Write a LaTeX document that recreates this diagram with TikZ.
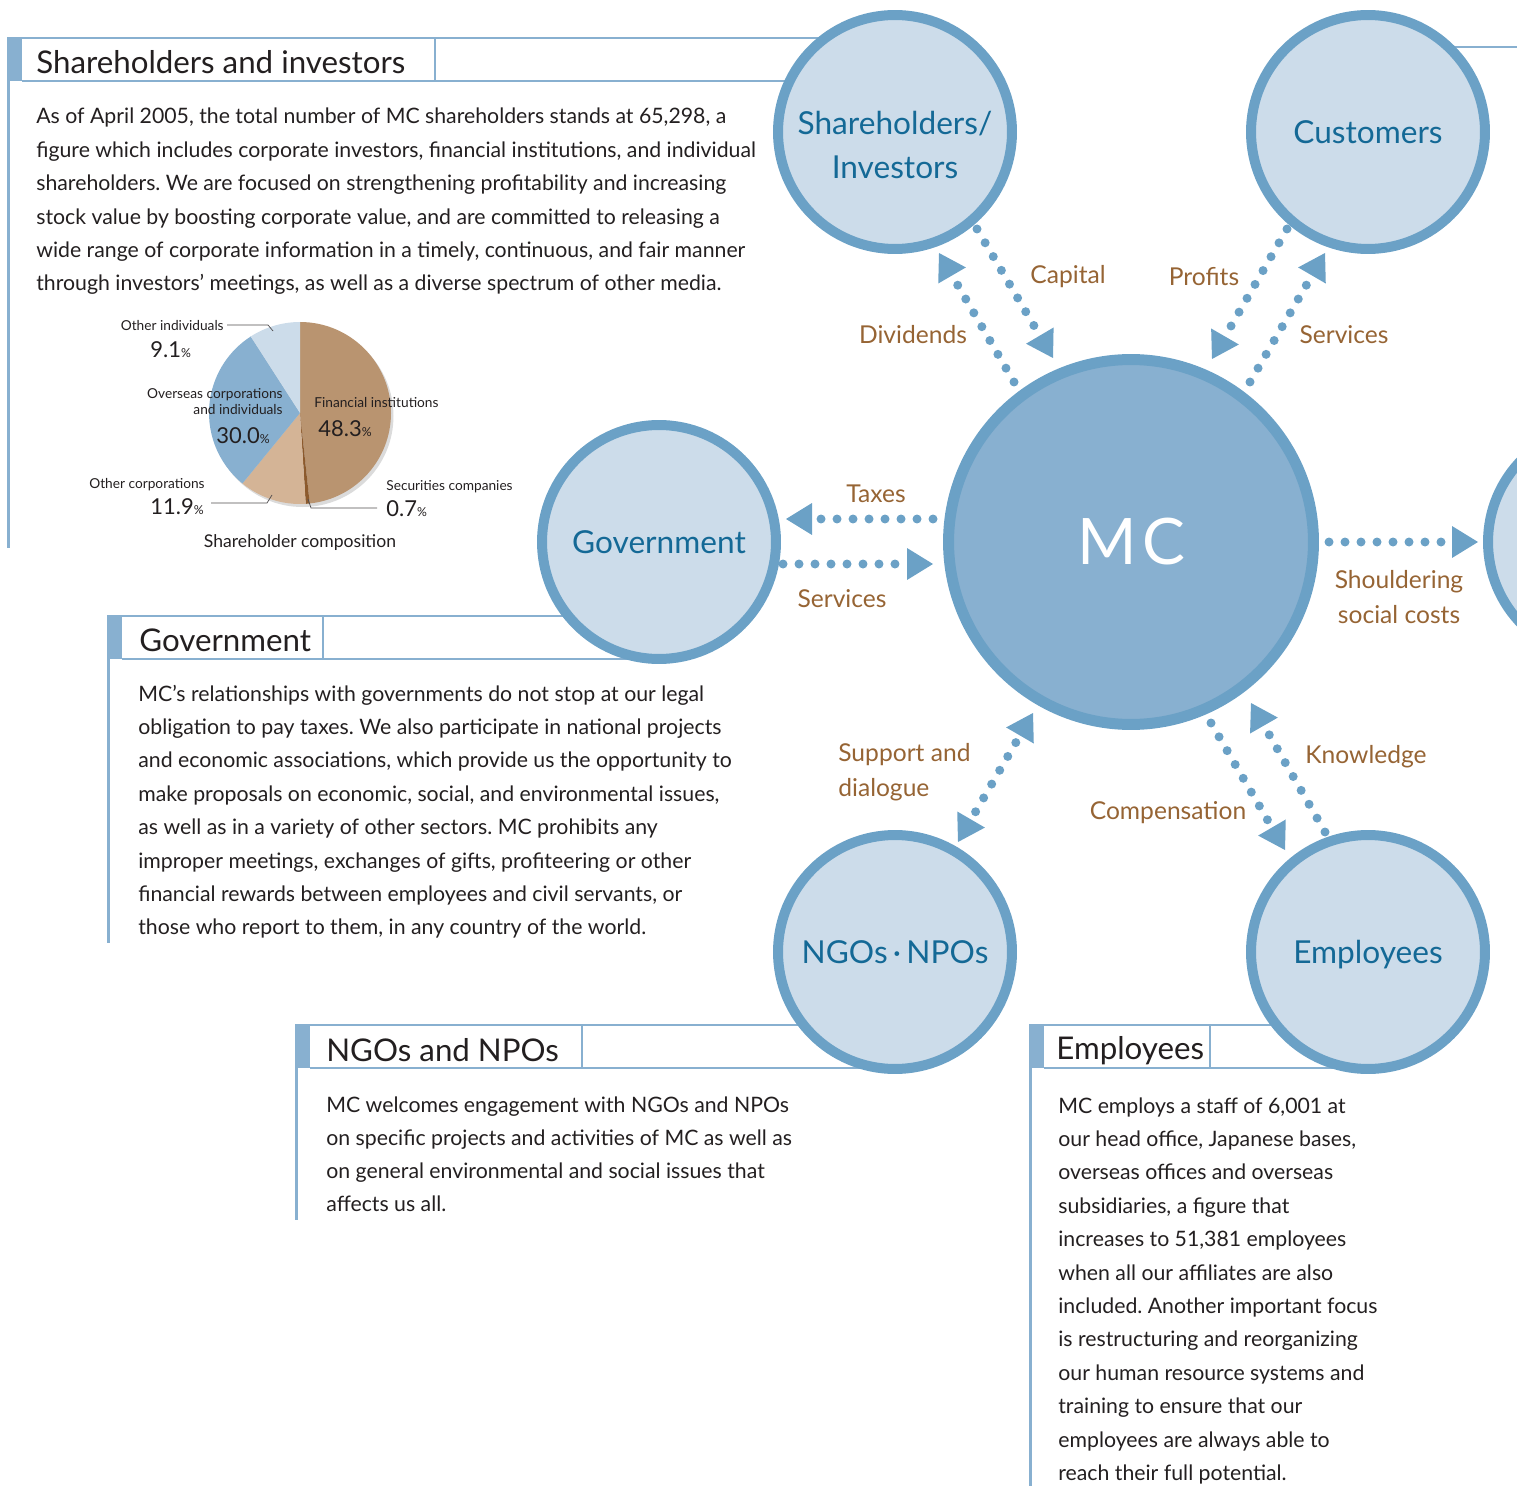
\documentclass[tikz,border=0pt]{standalone}
\usepackage{fontspec}
\setmainfont{Lato}
\usetikzlibrary{arrows.meta}
\usetikzlibrary{calc}
\definecolor{ring1}{RGB}{107,161,198}
\definecolor{pale1}{RGB}{204,220,234}
\definecolor{mid1}{RGB}{136,176,208}
\definecolor{label1}{RGB}{20,105,150}
\definecolor{brown1}{RGB}{150,100,52}
\definecolor{ink1}{RGB}{35,31,32}
\definecolor{fin1}{RGB}{185,148,112}
\definecolor{sec1}{RGB}{140,90,45}
\definecolor{corp1}{RGB}{212,180,150}
\frenchspacing

\tikzset{
  party/.style={circle, draw=ring1, fill=pale1, line width=0.2cm, minimum size=4.68cm,
    inner sep=0pt, text=label1, font=\fontsize{18}{24.5}\selectfont, align=center},
  hub/.style={circle, draw=ring1, fill=mid1, line width=0.22cm, minimum size=7.3cm,
    inner sep=0pt, text=white, font=\fontsize{36.5}{40}\selectfont},
  flow/.style={draw=ring1, line width=0.18cm, line cap=round, dash pattern=on 0pt off 0.32cm,
    -{Triangle[length=0.52cm, width=0.64cm, line width=0pt]}},
  flowlabel/.style={text=brown1, font=\fontsize{14}{20}\selectfont, align=center, inner sep=0pt},
  rule/.style={draw=mid1, line width=0.05cm},
  headtext/.style={anchor=base west, text=ink1, font=\fontsize{17.8}{20}\selectfont, inner sep=0pt},
  body/.style={anchor=base west, text=ink1, font=\fontsize{12.1}{19}\selectfont, inner sep=0pt},
  piesmall/.style={text=ink1, font=\fontsize{7.8}{9.2}\selectfont, inner sep=0pt, align=right},
  pienum/.style={anchor=base west, text=ink1, font=\fontsize{12.5}{14}\selectfont, inner sep=0pt},
  leader/.style={draw=ink1!80, line width=0.4pt},
}
\newcommand{\pct}{{\fontsize{7}{8}\selectfont\%}}

\begin{document}
\begin{tikzpicture}[x=0.02cm, y=-0.02cm]
\useasboundingbox (0,0) rectangle (1517,1486);

% section heads: blue tab, rules running into the circle, left margin rule
\foreach \x/\y/\d/\c/\e in {7/38/435/895/548, 107/616/323/659/943, 295/1025/582/895/1220, 1029/1025/1210/1368/1486} {
  \fill[mid1] (\x,\y) rectangle (\x+15,\y+43);
  \draw[rule] (\x,\y) -- (\c,\y) (\x+15,\y+43) -- (\c,\y+43) (\d,\y) -- (\d,\y+43);
  \draw[rule, line width=0.06cm] (\x+1.5,\y+43) -- (\x+1.5,\e);
}
\draw[rule] (1368,47) -- (1517,47);

\node[headtext] (h-sh) at (36,74) {Shareholders and investors};
\node[headtext] (h-gv) at (139,651) {Government};
\node[headtext] (h-ng) at (326,1061) {NGOs and NPOs};
\node[headtext] (h-em) at (1056,1059) {Employees};

% body copy, one node per line
\foreach \t [count=\i from 0] in {
  {As of April 2005, the total number of MC shareholders stands at 65,298, a},
  {figure which includes corporate investors, financial institutions, and individual},
  {shareholders. We are focused on strengthening profitability and increasing},
  {stock value by boosting corporate value, and are committed to releasing a},
  {wide range of corporate information in a timely, continuous, and fair manner},
  {through investors' meetings, as well as a diverse spectrum of other media.}}
  \node[body] (sh-\i) at (36,124+33.4*\i) {\t};

\foreach \t [count=\i from 0] in {
  {MC's relationships with governments do not stop at our legal},
  {obligation to pay taxes. We also participate in national projects},
  {and economic associations, which provide us the opportunity to},
  {make proposals on economic, social, and environmental issues,},
  {as well as in a variety of other sectors. MC prohibits any},
  {improper meetings, exchanges of gifts, profiteering or other},
  {financial rewards between employees and civil servants, or},
  {those who report to them, in any country of the world.}}
  \node[body] (gv-\i) at (138,701+33.4*\i) {\t};

\foreach \t [count=\i from 0] in {
  {MC welcomes engagement with NGOs and NPOs},
  {on specific projects and activities of MC as well as},
  {on general environmental and social issues that},
  {affects us all.}}
  \node[body] (ng-\i) at (326,1112+33.1*\i) {\t};

\foreach \t [count=\i from 0] in {
  {MC employs a staff of 6,001 at},
  {our head office, Japanese bases,},
  {overseas offices and overseas},
  {subsidiaries, a figure that},
  {increases to 51,381 employees},
  {when all our affiliates are also},
  {included. Another important focus},
  {is restructuring and reorganizing},
  {our human resource systems and},
  {training to ensure that our},
  {employees are always able to},
  {reach their full potential.}}
  \node[body] (em-\i) at (1058,1113+33.4*\i) {\t};

% shareholder pie
\begin{scope}[shift={(300,413)}, y=0.02cm]
  \fill[black!14] (2.5,-3) circle[radius=91];
  \foreach \a/\b/\c in {90/-83.88/fin1, -83.88/-86.4/sec1, -86.4/-129.24/corp1,
                        -129.24/-237.24/mid1, -237.24/-270/pale1}
    \fill[\c] (0,0) -- (\a:91) arc[start angle=\a, end angle=\b, radius=91] -- cycle;
\end{scope}
\draw[leader] (227,325) -- (268,325) -- (273,331);
\draw[leader] (211,503) -- (267,503) -- (272,495);
\draw[leader] (308,499) -- (311,508) -- (377,508);
\node[piesmall, anchor=base east] (p-ind) at (224,331) {Other individuals};
\node[pienum] (p-ind-v) at (150,358) {9.1\pct};
\node[piesmall, anchor=base east] (p-ovs) at (283,415) {Overseas corporations\\and individuals};
\node[pienum] (p-ovs-v) at (216,443) {30.0\pct};
\node[piesmall, anchor=base west] (p-fin) at (314,408) {Financial institutions};
\node[pienum] (p-fin-v) at (318,437) {48.3\pct};
\node[piesmall, anchor=base west] (p-crp) at (89,488) {Other corporations};
\node[pienum] (p-crp-v) at (150,514) {11.9\pct};
\node[piesmall, anchor=base west] (p-sec) at (386,490) {Securities companies};
\node[pienum] (p-sec-v) at (386,516) {0.7\pct};
\node[text=ink1, font=\fontsize{10}{12}\selectfont] (p-cap) at (300,543) {Shareholder composition};

% stakeholders around MC
\node[party] (sh) at (895,132) {};
\node[text=label1, font=\fontsize{18}{24.5}\selectfont, align=center] (sh-name) at (895,145) {Shareholders/\\Investors};
\node[party] (cu) at (1368,132) {Customers};
\node[party] (gv) at (659,542) {Government};
\node[party] (ng) at (895,952) {NGOs\,·\,NPOs};
\node[party, text depth=0pt] (em) at (1368,952) {Employees};
\node[party] (rt) at (1605,542) {};
\node[hub] (mc) at (1131,542) {M\kern3pt C};

% flows
\draw[flow] ($(sh)+(82,97)$) -- ($(mc)+(-78,-184)$);
\draw[flow] ($(mc)+(-117,-160)$) -- ($(sh)+(44,121)$);
\draw[flow] ($(cu)+(-81,97)$) -- ($(mc)+(81,-183)$);
\draw[flow] ($(mc)+(119,-160)$) -- ($(cu)+(-43,121)$);
\draw[flow] ($(mc)+(-198,-23)$) -- ($(gv)+(127,-23)$);
\draw[flow] ($(gv)+(124,22)$) -- ($(mc)+(-198,22)$);
\draw[flow] ($(mc)+(198,0)$) -- ($(rt)+(-127,0)$);
\draw[flow, dash phase=0.14cm, {Triangle[length=0.52cm, width=0.64cm, line width=0pt]}-{Triangle[length=0.52cm, width=0.64cm, line width=0pt]}]
  ($(ng)+(63,-110)$) -- ($(mc)+(-98,171)$);
\draw[flow] ($(mc)+(80,181)$) -- ($(em)+(-83,-102)$);
\draw[flow] ($(em)+(-43,-120)$) -- ($(mc)+(120,161)$);

\node[flowlabel] (l-cap) at (1068,277) {Capital};
\node[flowlabel] (l-div) at (913,335) {Dividends};
\node[flowlabel] (l-pro) at (1204,277) {Profits};
\node[flowlabel] (l-svc) at (1344,335) {Services};
\node[flowlabel] (l-tax) at (876,494) {Taxes};
\node[flowlabel] (l-pub) at (842,599) {Services};
\node[flowlabel] (l-soc) at (1399,597) {Shouldering\\social costs};
\node[flowlabel, anchor=west, align=left] (l-sup) at (838,772) {Support and\\dialogue};
\node[flowlabel] (l-com) at (1168,813) {Compensation};
\node[flowlabel] (l-kno) at (1366,757) {Knowledge};
\end{tikzpicture}
\end{document}
